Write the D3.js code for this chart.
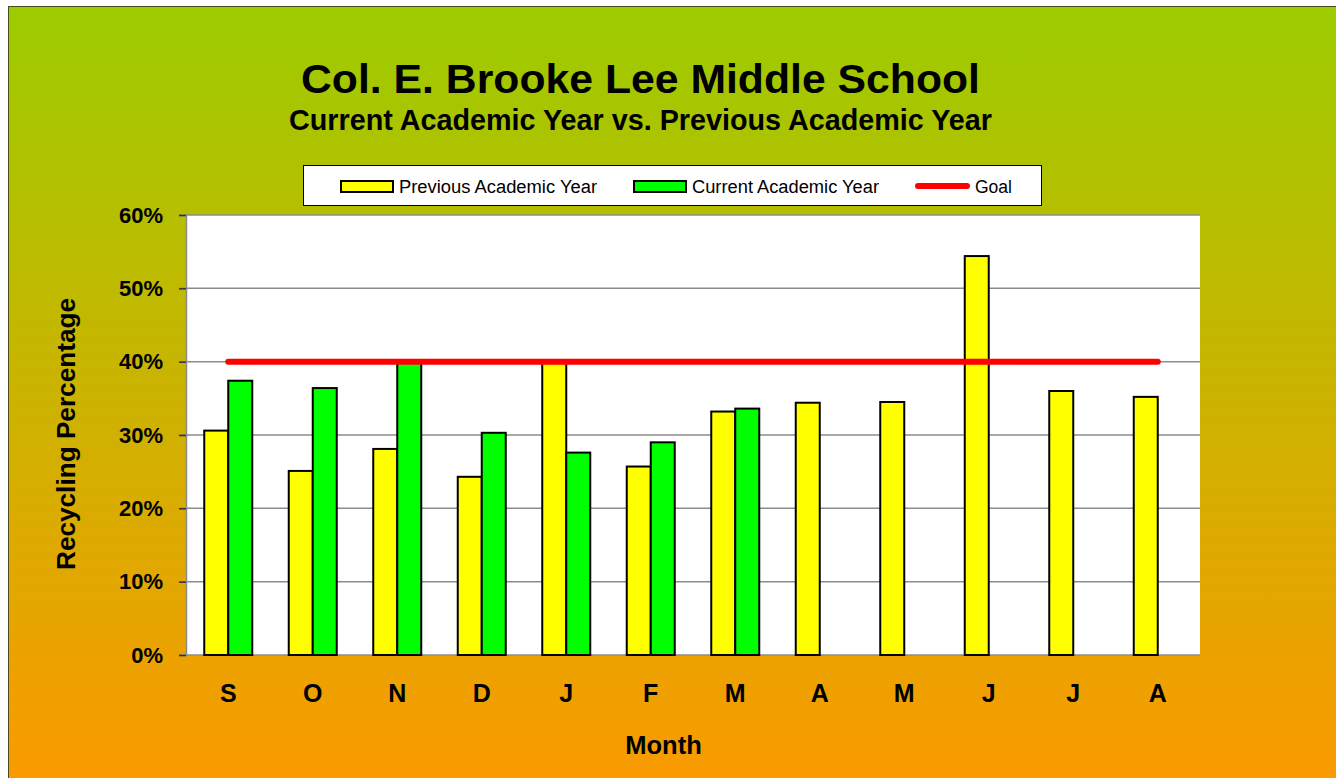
<!DOCTYPE html>
<html>
<head>
<meta charset="utf-8">
<script src="https://cdn.jsdelivr.net/npm/d3@7"></script>
<style>
  body { margin: 0; background: #fff; }
  text { font-family: "Liberation Sans", Arial, sans-serif; }
</style>
</head>
<body>
<div id="container"></div>
<script>
/* DATA */
const months = ["S", "O", "N", "D", "J", "F", "M", "A", "M", "J", "J", "A"];
const previousYear = [30.6, 25.1, 28.1, 24.3, 40.0, 25.7, 33.2, 34.4, 34.5, 54.4, 36.0, 35.2];
const currentYear = [37.4, 36.4, 39.9, 30.3, 27.6, 29.0, 33.6, null, null, null, null, null];
const goal = [40, 40, 40, 40, 40, 40, 40, 40, 40, 40, 40, 40];
const yTicks = [0, 10, 20, 30, 40, 50, 60];

/* CONSTANTS */
const width = 1336, height = 778;
const plot = { left: 186, right: 1200, top: 215, bottom: 655 };

const svg = d3.select("#container")
  .append("svg")
  .attr("width", width)
  .attr("height", height);

/* BACKGROUND */
const defs = svg.append("defs");
const grad = defs.append("linearGradient")
  .attr("id", "bg")
  .attr("x1", 0).attr("y1", 0).attr("x2", 0).attr("y2", 1);
grad.append("stop").attr("offset", "0%").attr("stop-color", "#9ccc00");
grad.append("stop").attr("offset", "100%").attr("stop-color", "#fb9a00");

svg.append("rect")
  .attr("x", 8.5).attr("y", 6.5)
  .attr("width", width).attr("height", height)
  .attr("fill", "url(#bg)")
  .attr("stroke", "#4a4a1a")
  .attr("stroke-width", 1);

/* SCALES */
const xScale = d3.scaleBand()
  .domain(d3.range(months.length))
  .range([plot.left, plot.right]);

const yScale = d3.scaleLinear()
  .domain([0, 60])
  .range([plot.bottom, plot.top]);

const barW = 24;

/* PLOT AREA */
svg.append("rect")
  .attr("x", plot.left).attr("y", plot.top)
  .attr("width", plot.right - plot.left)
  .attr("height", plot.bottom - plot.top)
  .attr("fill", "#fff");

// gridlines
svg.append("g")
  .selectAll("line")
  .data(yTicks)
  .join("line")
  .attr("x1", plot.left - 7).attr("x2", plot.right)
  .attr("y1", d => yScale(d)).attr("y2", d => yScale(d))
  .attr("stroke", "#8c8c8c")
  .attr("stroke-width", 1.5);

// y axis
const yAxis = d3.axisLeft(yScale)
  .tickValues(yTicks)
  .tickSize(7)
  .tickPadding(16)
  .tickFormat(d => d + "%");

svg.append("g")
  .attr("transform", `translate(${plot.left},0)`)
  .call(yAxis)
  .call(g => g.select(".domain").attr("stroke", "#8c8c8c").attr("stroke-width", 1.5))
  .call(g => g.selectAll(".tick line").attr("stroke", "#333").attr("stroke-width", 1.5))
  .call(g => g.selectAll("text")
    .attr("fill", "#000")
    .style("font-family", "'Liberation Sans', Arial, sans-serif")
    .style("font-size", "22px")
    .style("font-weight", "bold"));

// x axis labels
const xAxis = d3.axisBottom(xScale)
  .tickSize(0)
  .tickPadding(29)
  .tickFormat(i => months[i]);

svg.append("g")
  .attr("transform", `translate(0,${plot.bottom})`)
  .call(xAxis)
  .call(g => g.select(".domain").remove())
  .call(g => g.selectAll("text")
    .attr("fill", "#000")
    .style("font-family", "'Liberation Sans', Arial, sans-serif")
    .style("font-size", "25px")
    .style("font-weight", "bold"));

/* BARS */
const center = i => xScale(i) + xScale.bandwidth() / 2;

svg.append("g")
  .selectAll("rect")
  .data(previousYear)
  .join("rect")
  .attr("x", (d, i) => center(i) - barW)
  .attr("y", d => yScale(d))
  .attr("width", barW)
  .attr("height", d => yScale(0) - yScale(d))
  .attr("fill", "#ffff00")
  .attr("stroke", "#000")
  .attr("stroke-width", 2);

svg.append("g")
  .selectAll("rect")
  .data(currentYear.map((v, i) => ({ v, i })).filter(d => d.v != null))
  .join("rect")
  .attr("x", d => center(d.i))
  .attr("y", d => yScale(d.v))
  .attr("width", barW)
  .attr("height", d => yScale(0) - yScale(d.v))
  .attr("fill", "#00ff00")
  .attr("stroke", "#000")
  .attr("stroke-width", 2);

/* GOAL LINE */
const line = d3.line()
  .x((d, i) => center(i))
  .y(d => yScale(d));

svg.append("path")
  .datum(goal)
  .attr("d", line)
  .attr("fill", "none")
  .attr("stroke", "#ff0000")
  .attr("stroke-width", 6)
  .attr("stroke-linecap", "round");

/* TITLES */
svg.append("text")
  .attr("x", 640.5).attr("y", 93)
  .attr("text-anchor", "middle")
  .attr("textLength", 679)
  .attr("lengthAdjust", "spacingAndGlyphs")
  .style("font-size", "41px")
  .style("font-weight", "bold")
  .text("Col. E. Brooke Lee Middle School");

svg.append("text")
  .attr("x", 640.5).attr("y", 130)
  .attr("text-anchor", "middle")
  .attr("textLength", 703)
  .attr("lengthAdjust", "spacingAndGlyphs")
  .style("font-size", "30px")
  .style("font-weight", "bold")
  .text("Current Academic Year vs. Previous Academic Year");

svg.append("text")
  .attr("transform", `translate(75,434) rotate(-90)`)
  .attr("text-anchor", "middle")
  .attr("textLength", 272)
  .attr("lengthAdjust", "spacingAndGlyphs")
  .style("font-size", "25.5px")
  .style("font-weight", "bold")
  .text("Recycling Percentage");

svg.append("text")
  .attr("x", 663.5).attr("y", 754)
  .attr("text-anchor", "middle")
  .style("font-size", "25.5px")
  .style("font-weight", "bold")
  .text("Month");

/* LEGEND */
const legend = svg.append("g");
legend.append("rect")
  .attr("x", 303.5).attr("y", 165.5)
  .attr("width", 738).attr("height", 40)
  .attr("fill", "#fff")
  .attr("stroke", "#000")
  .attr("stroke-width", 1);

const legendItems = [
  { label: "Previous Academic Year", type: "bar", color: "#ffff00", x: 341, tx: 399, tw: 198 },
  { label: "Current Academic Year", type: "bar", color: "#00ff00", x: 634, tx: 692, tw: 187 },
  { label: "Goal", type: "line", color: "#ff0000", x: 915, tx: 975, tw: 37 }
];

legendItems.forEach(d => {
  if (d.type === "bar") {
    legend.append("rect")
      .attr("x", d.x).attr("y", 181)
      .attr("width", 52).attr("height", 11)
      .attr("fill", d.color)
      .attr("stroke", "#000")
      .attr("stroke-width", 2);
  } else {
    legend.append("line")
      .attr("x1", d.x + 3).attr("x2", d.x + 52)
      .attr("y1", 186).attr("y2", 186)
      .attr("stroke", d.color)
      .attr("stroke-width", 6)
      .attr("stroke-linecap", "round");
  }
  legend.append("text")
    .attr("x", d.tx).attr("y", 193)
    .attr("textLength", d.tw)
    .attr("lengthAdjust", "spacingAndGlyphs")
    .style("font-size", "18px")
    .text(d.label);
});
</script>
</body>
</html>
